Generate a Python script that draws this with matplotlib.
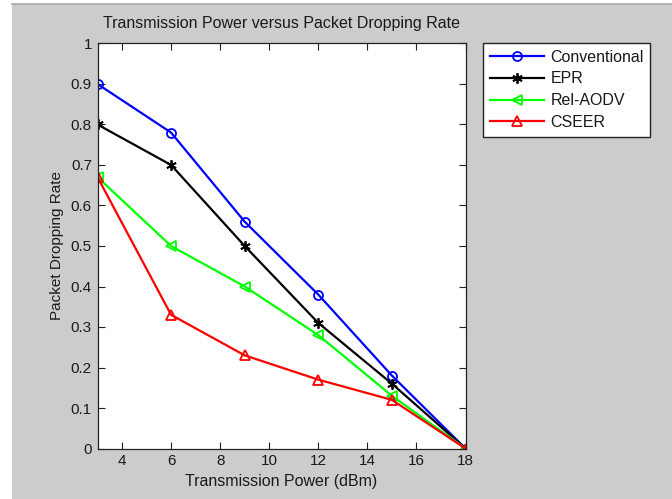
import matplotlib
matplotlib.use("Agg")
import matplotlib.pyplot as plt
from matplotlib.patches import Rectangle
from matplotlib.lines import Line2D

# Data
power = [3, 6, 9, 12, 15, 18]
conventional = [0.90, 0.78, 0.56, 0.38, 0.18, 0.0]
epr = [0.80, 0.70, 0.50, 0.31, 0.16, 0.0]
rel_aodv = [0.67, 0.50, 0.40, 0.28, 0.13, 0.0]
cseer = [0.67, 0.33, 0.23, 0.17, 0.12, 0.0]

x_ticks = [4, 6, 8, 10, 12, 14, 16, 18]
y_ticks = [0, 0.1, 0.2, 0.3, 0.4, 0.5, 0.6, 0.7, 0.8, 0.9, 1]
y_tick_labels = ["0", "0.1", "0.2", "0.3", "0.4", "0.5", "0.6", "0.7", "0.8", "0.9", "1"]

plt.rcParams["font.family"] = ["Liberation Sans", "DejaVu Sans"]
plt.rcParams["font.size"] = 11
txt = "#1a1a1a"

W, H = 672, 499
fig = plt.figure(figsize=(W / 100, H / 100), dpi=100, facecolor="white")

# MATLAB-like grey window background with thin top border
fig.patches.append(Rectangle((12 / W, 0), 1 - 12 / W, (H - 4) / H,
                             transform=fig.transFigure, facecolor="#cccccc",
                             edgecolor="none", zorder=-10))
fig.lines.append(Line2D([12 / W, 1], [(H - 3.5) / H, (H - 3.5) / H],
                        transform=fig.transFigure, color="#a8a8a8", lw=1.2))

ax = fig.add_axes([97.5 / W, (H - 448.5) / H, 368 / W, 405 / H])
ax.set_facecolor("white")

ax.plot(power, conventional, color="#0000ff", lw=1.6, marker="o", ms=6.5,
        mfc="none", mew=1.3, label="Conventional")
ax.plot(power, epr, color="black", lw=1.6, marker=(6, 2, 0), ms=7.5,
        mew=1.3, label="EPR")
ax.plot(power, rel_aodv, color="#00ff00", lw=1.6, marker="<", ms=7.5,
        mfc="none", mew=1.3, label="Rel-AODV")
ax.plot(power, cseer, color="#ff0000", lw=1.6, marker="^", ms=7.5,
        mfc="none", mew=1.3, label="CSEER")

ax.set_xlim(3, 18)
ax.set_ylim(0, 1)
ax.set_xticks(x_ticks)
ax.set_yticks(y_ticks)
ax.set_yticklabels(y_tick_labels)
ax.tick_params(direction="in", length=5, width=0.8, top=True, right=True,
               labelsize=11, colors="#222222", labelcolor=txt, pad=4)
for s in ax.spines.values():
    s.set_color("#222222")
    s.set_linewidth(0.9)
for lab in ax.get_xticklabels() + ax.get_yticklabels():
    lab.set_clip_on(False)

ax.set_title("Transmission Power versus Packet Dropping Rate", fontsize=11.5,
             color=txt, pad=11)
ax.set_xlabel("Transmission Power (dBm)", fontsize=11.5, color=txt, labelpad=4)
ax.set_ylabel("Packet Dropping Rate", fontsize=11, color=txt, labelpad=5)

leg = ax.legend(loc="upper left", bbox_to_anchor=(483 / W, 1 - 43 / H),
                bbox_transform=fig.transFigure, fontsize=11.5, frameon=True,
                fancybox=False, edgecolor="#222222", facecolor="white",
                framealpha=1, handlelength=3.4, handletextpad=0.4,
                labelspacing=0.42, borderpad=0.42, borderaxespad=0)
leg.get_frame().set_linewidth(1.0)
for t in leg.get_texts():
    t.set_color(txt)

fig.savefig("out.png", dpi=100, facecolor=fig.get_facecolor())
